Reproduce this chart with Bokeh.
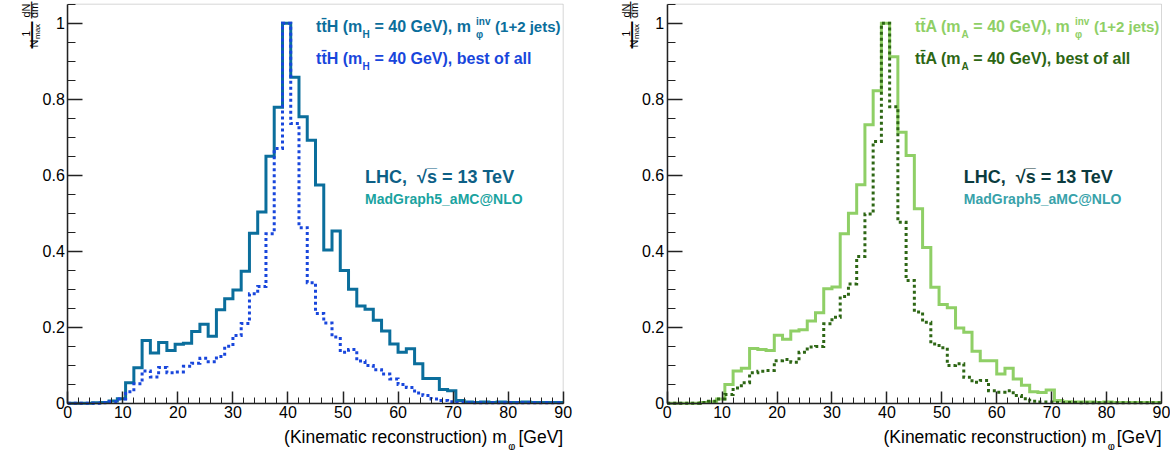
import numpy as np
from bokeh.plotting import figure
from bokeh.models import (Label, FixedTicker, NumeralTickFormatter, Range1d,
                          LinearAxis, BoxAnnotation)
from bokeh.layouts import row
from bokeh.embed import file_html
from bokeh.resources import INLINE

BIN_WIDTH = 1.5
X_TICKS = [0, 10, 20, 30, 40, 50, 60, 70, 80, 90]
X_MINOR = list(range(0, 91, 2))
Y_TICKS = [0, 0.2, 0.4, 0.6, 0.8, 1.0]
Y_MINOR = [round(0.05 * i, 2) for i in range(22)]

# 60 bins of 1.5 GeV, 0-90 GeV
tth_inv = [0.0, 0.0, 0.0, 0.001, 0.002, 0.006, 0.012, 0.054, 0.093, 0.165,
           0.132, 0.160, 0.139, 0.155, 0.158, 0.189, 0.208, 0.176, 0.246, 0.275,
           0.298, 0.347, 0.447, 0.503, 0.650, 0.779, 1.000, 0.858, 0.754, 0.692,
           0.574, 0.403, 0.453, 0.349, 0.300, 0.256, 0.247, 0.218, 0.190, 0.156,
           0.134, 0.143, 0.104, 0.065, 0.065, 0.036, 0.033, 0.007, 0.003, 0.002,
           0.003, 0.002, 0.003, 0.002, 0.002, 0.003, 0.002, 0.002, 0.002, 0.002]
tth_best = [0.0, 0.0, 0.0, 0.0, 0.001, 0.004, 0.011, 0.030, 0.051, 0.085,
            0.069, 0.094, 0.080, 0.082, 0.097, 0.105, 0.118, 0.109, 0.123, 0.150,
            0.178, 0.210, 0.288, 0.307, 0.446, 0.670, 1.000, 0.736, 0.462, 0.317,
            0.236, 0.211, 0.174, 0.134, 0.141, 0.111, 0.099, 0.088, 0.077, 0.064,
            0.049, 0.041, 0.027, 0.020, 0.011, 0.007, 0.004, 0.002, 0.002, 0.001,
            0.001, 0.001, 0.001, 0.001, 0.001, 0.001, 0.001, 0.001, 0.001, 0.001]
tta_inv = [0.0, 0.0, 0.0, 0.0, 0.002, 0.004, 0.011, 0.049, 0.085, 0.092,
           0.144, 0.141, 0.139, 0.179, 0.168, 0.190, 0.193, 0.216, 0.238, 0.301,
           0.306, 0.446, 0.500, 0.575, 0.733, 0.822, 1.000, 0.912, 0.713, 0.652,
           0.512, 0.410, 0.305, 0.260, 0.251, 0.198, 0.187, 0.137, 0.112, 0.112,
           0.077, 0.092, 0.064, 0.047, 0.030, 0.028, 0.035, 0.007, 0.004, 0.003,
           0.003, 0.003, 0.002, 0.003, 0.002, 0.002, 0.002, 0.002, 0.002, 0.002]
tta_best = [0.0, 0.0, 0.0, 0.0, 0.002, 0.005, 0.011, 0.023, 0.040, 0.054,
            0.080, 0.084, 0.086, 0.112, 0.115, 0.108, 0.134, 0.148, 0.149, 0.209,
            0.226, 0.281, 0.314, 0.386, 0.498, 0.689, 1.000, 0.780, 0.476, 0.323,
            0.240, 0.213, 0.156, 0.146, 0.099, 0.104, 0.068, 0.055, 0.060, 0.033,
            0.029, 0.033, 0.020, 0.012, 0.005, 0.003, 0.003, 0.002, 0.002, 0.002,
            0.001, 0.001, 0.001, 0.001, 0.001, 0.001, 0.001, 0.001, 0.001, 0.001]

FONT = "Liberation Sans"
NB = "\u00a0"
H = 450            # canvas height (px)
Y0_PX = 402.7      # page y of value 0
PX_PER_Y = 380.0   # px per unit of y
Y_TOP = 1.05       # frame top value


def add_text(p, x, y, text, size, color, bold=True, align="left",
             baseline="middle", angle=0.0):
    p.add_layout(Label(x=x, y=y, text=text, text_font=FONT,
                       text_font_size=f"{size}px",
                       text_font_style="bold" if bold else "normal",
                       text_color=color, text_align=align,
                       text_baseline=baseline, angle=angle))


def make_panel(solid, dotted, c_solid, c_dotted, width, x0_px, pxu,
               boson, c_lhc, c_mg):
    xr = Range1d(-x0_px / pxu, (width - x0_px) / pxu)
    yr = Range1d(-(H - Y0_PX) / PX_PER_Y, Y0_PX / PX_PER_Y)
    p = figure(width=width, height=H, x_range=xr, y_range=yr,
               output_backend="svg", toolbar_location=None,
               x_axis_location=None, y_axis_location=None,
               min_border=0)
    p.grid.visible = False
    p.outline_line_color = None
    p.background_fill_color = "white"
    p.border_fill_color = "white"

    p.add_layout(BoxAnnotation(left=0, right=90, bottom=0, top=Y_TOP,
                               fill_color=None, line_color="#7a7a7a",
                               line_width=1, level="underlay"))

    edges = np.arange(len(solid) + 1) * BIN_WIDTH
    p.step(edges, list(solid) + [solid[-1]], mode="after", line_width=3,
           line_color=c_solid, line_join="miter")
    p.step(edges, list(dotted) + [dotted[-1]], mode="after", line_width=3,
           line_color=c_dotted, line_dash="3 3", line_join="miter")

    xax = LinearAxis(fixed_location=0, bounds=(0, 90),
                     ticker=FixedTicker(ticks=X_TICKS, minor_ticks=X_MINOR))
    yax = LinearAxis(fixed_location=0, bounds=(0, Y_TOP),
                     ticker=FixedTicker(ticks=Y_TICKS, minor_ticks=Y_MINOR),
                     formatter=NumeralTickFormatter(format="0.[0]"))
    for ax in (xax, yax):
        ax.major_tick_out = 0
        ax.minor_tick_out = 0
        ax.axis_line_color = "#222222"
        ax.axis_line_width = 1.5
        ax.major_tick_line_color = "#222222"
        ax.minor_tick_line_color = "#222222"
        ax.major_tick_line_width = 1.5
        ax.minor_tick_line_width = 1
        ax.major_label_text_font = FONT
        ax.major_label_text_font_size = "16px"
        ax.major_label_text_color = "#000000"
        ax.major_label_standoff = 3
    xax.major_tick_in = 12
    xax.minor_tick_in = 6
    yax.major_tick_in = 15
    yax.minor_tick_in = 8
    p.add_layout(xax, "below")
    p.add_layout(yax, "left")

    def dx(px):
        return px / pxu

    def vy(page_y):
        return (Y0_PX - page_y) / PX_PER_Y

    # y-axis title: (1/N_max)(dN/dm), rotated; anchors at the lower end
    ang = np.pi / 2
    blk = "#000000"
    add_text(p, dx(-41.5), vy(36.0), "1", 10, blk, bold=False, angle=ang)
    add_text(p, dx(-33.5), vy(47.0), "N", 11, blk, bold=False, angle=ang)
    add_text(p, dx(-30.5), vy(38.5), "max", 8, blk, bold=False, angle=ang)
    add_text(p, dx(-37.5), vy(48.0), "\u2014", 27, blk, bold=False, angle=ang)
    add_text(p, dx(-41.5), vy(17.0), "dN", 11, blk, bold=False, angle=ang)
    add_text(p, dx(-33.5), vy(17.5), "dm", 11, blk, bold=False, angle=ang)
    add_text(p, dx(-37.5), vy(18.0), "\u2014", 17, blk, bold=False, angle=ang)

    # x-axis title
    add_text(p, 90, vy(436.5), "[GeV]", 17.5, blk, bold=False, align="right")
    add_text(p, dx(439), vy(436.5), "(Kinematic reconstruction) m", 17.5, blk,
             bold=False, align="right")
    add_text(p, dx(440.5), vy(445), "\u03c6", 11, blk, bold=False)

    # legend texts
    q = "tt\u0304"
    x0 = 45.1
    add_text(p, x0, vy(25.5), f"{q}{boson} (m", 16, c_solid)
    add_text(p, x0 + dx(46.5), vy(33.5), boson, 10, c_solid)
    add_text(p, x0 + dx(54), vy(25.5), f"{NB}= 40 GeV), m", 16, c_solid)
    add_text(p, x0 + dx(160), vy(33.5), "\u03c6", 10, c_solid)
    add_text(p, x0 + dx(160), vy(21), "inv", 10, c_solid)
    add_text(p, x0 + dx(179), vy(25.5), "(1+2 jets)", 15, c_solid)

    add_text(p, x0, vy(57.5), f"{q}{boson} (m", 16, c_dotted)
    add_text(p, x0 + dx(46.5), vy(66), boson, 10, c_dotted)
    add_text(p, x0 + dx(54), vy(57.5), f"{NB}= 40 GeV), best of all", 16, c_dotted)

    add_text(p, 54.0, vy(176.5), f"LHC,{NB}{NB}\u221as\u0305 = 13 TeV", 18, c_lhc)
    add_text(p, 54.0, vy(198), "MadGraph5_aMC@NLO", 14, c_mg)
    return p


left = make_panel(tth_inv, tth_best, "#0b6e9c", "#1846dc", 600, 67.3,
                  495.4 / 90, "H", "#0d5f86", "#1aa3a0")
right = make_panel(tta_inv, tta_best, "#8fcf66", "#2d6614", 570, 66.7,
                   494.3 / 90, "A", "#0b3b3e", "#38a2aa")

layout = row(left, right)
open("out.html", "w").write(file_html(layout, INLINE))
